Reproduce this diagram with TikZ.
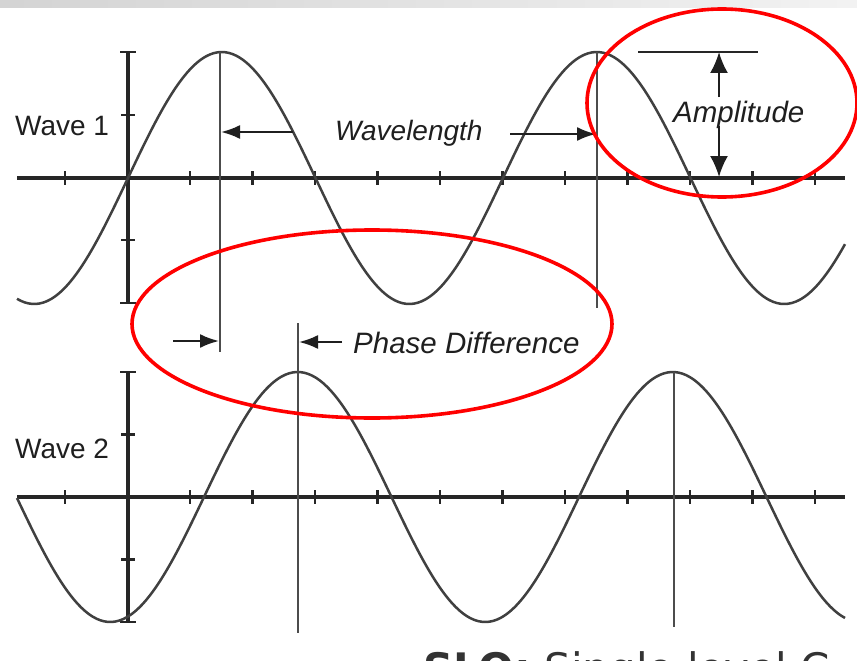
\documentclass[tikz,border=0pt]{standalone}
\usepackage{fontspec}
\setmainfont{Liberation Sans}
\newfontfamily\slofont{DejaVu Sans}
\usetikzlibrary{arrows.meta}
\begin{document}
\begin{tikzpicture}[x=1pt,y=-1pt,
  axisline/.style={line width=3.4pt,draw=black!85},
  waveline/.style={line width=2.5pt,draw=black!75},
  guide/.style={line width=2.2pt,draw=black!70},
  tickmark/.style={line width=2.8pt,draw=black!85},
  dimarrow/.style={line width=2.2pt,draw=black!88,-{Latex[length=19pt,width=14pt]}},
  amparrow/.style={line width=2.2pt,draw=black!88,-{Latex[length=21pt,width=18pt]}},
  lbl/.style={inner sep=0pt,anchor=base west,text=black!88},
  redring/.style={draw=red,line width=3.6pt}
]
\useasboundingbox (0,0) rectangle (857,661);
\clip (0,0) rectangle (857,661);
\fill[white] (0,0) rectangle (857,661);
\shade[left color=black!17,right color=black!5] (0,0) rectangle (857,8);

% ---------- Wave 1 ----------
\draw[axisline] (17,178) -- (845,178);
\foreach \k in {0,...,12}{\draw[tickmark] ({65+62.5*\k},171) -- ({65+62.5*\k},185);}
\draw[axisline] (128,52) -- (128,303);
\draw[tickmark] (120,52) -- (136,52);
\draw[tickmark] (120,303) -- (136,303);
\draw[tickmark] (121,115) -- (135,115);
\draw[tickmark] (121,240) -- (135,240);
\draw[waveline] plot[domain=17:845,samples=220,smooth] (\x,{178-126*sin(0.96*(\x-128))});
\draw[guide] (220,52) -- (220,352);
\draw[guide] (597,52) -- (597,308);
\node[lbl,font=\fontsize{28}{30}\selectfont] (w1) at (15,135) {Wave 1};

% wavelength
\coordinate (wlA) at (293,132);
\coordinate (wlAt) at (221,132);
\coordinate (wlB) at (510,134);
\coordinate (wlBt) at (596,134);
\draw[dimarrow] (wlA) -- (wlAt);
\draw[dimarrow] (wlB) -- (wlBt);
\node[lbl,font=\itshape\fontsize{28}{30}\selectfont] (wl) at (335,140) {Wavelength};

% amplitude
\coordinate (amL) at (638,52);
\coordinate (amR) at (758,52);
\draw[line width=2.2pt,draw=black!85] (amL) -- (amR);
\coordinate (amU) at (719,97);
\coordinate (amUt) at (719,52);
\coordinate (amD) at (719,126);
\coordinate (amDt) at (719,177);
\draw[amparrow] (amU) -- (amUt);
\draw[amparrow] (amD) -- (amDt);
\node[lbl,font=\itshape\fontsize{29.5}{31}\selectfont] (amp) at (673,122) {Amplitude};

% ---------- Wave 2 ----------
\draw[axisline] (17,497) -- (845,497);
\foreach \k in {0,...,12}{\draw[tickmark] ({65+62.5*\k},490) -- ({65+62.5*\k},504);}
\draw[axisline] (128,372) -- (128,622);
\draw[tickmark] (120,372) -- (136,372);
\draw[tickmark] (120,622) -- (136,622);
\draw[tickmark] (121,434.5) -- (135,434.5);
\draw[tickmark] (121,559.5) -- (135,559.5);
\draw[waveline] plot[domain=17:845,samples=220,smooth] (\x,{497-125*sin(0.96*(\x-204))});
\draw[guide] (298,323) -- (298,633);
\draw[guide] (674,372) -- (674,627);
\node[lbl,font=\fontsize{28}{30}\selectfont] (w2) at (15,458) {Wave 2};

% phase difference
\coordinate (pdA) at (173,341);
\coordinate (pdAt) at (219,341);
\coordinate (pdB) at (342,342);
\coordinate (pdBt) at (299,342);
\draw[dimarrow] (pdA) -- (pdAt);
\draw[dimarrow] (pdB) -- (pdBt);
\node[lbl,font=\itshape\fontsize{29.5}{31}\selectfont] (pd) at (353,353) {Phase Difference};

% red highlight rings
\draw[redring] (722,103) ellipse [x radius=135pt,y radius=94pt];
\draw[redring] (372,324) ellipse [x radius=240pt,y radius=94pt];

% caption (cut off at the bottom edge, as in the reference)
\node[inner sep=0pt,anchor=base west,text=black!80,font=\slofont\fontsize{42}{44}\selectfont] (slo) at (423,683) {\textbf{SLO:} Single level C};
\end{tikzpicture}
\end{document}
